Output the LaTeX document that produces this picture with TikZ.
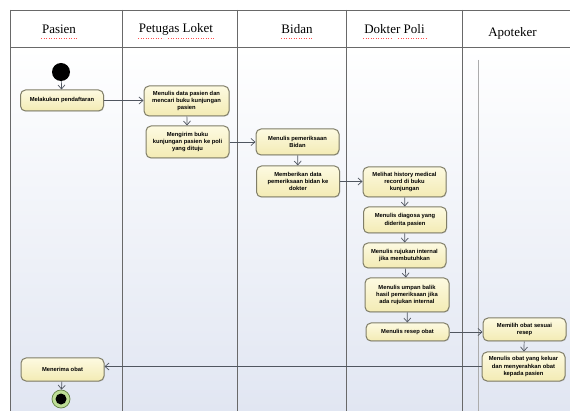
\documentclass[tikz,border=0pt]{standalone}
\usepackage{fontspec}
\setmainfont{Liberation Serif}
\newfontfamily\actfont{Liberation Sans}
\usetikzlibrary{arrows.meta,shadows}

\definecolor{lanebg}{RGB}{225,230,242}
\definecolor{gridline}{RGB}{105,105,105}
\definecolor{actfill}{RGB}{243,235,180}
\definecolor{actfilltop}{RGB}{253,250,225}
\definecolor{actborder}{RGB}{128,126,104}
\definecolor{flow}{RGB}{80,86,96}
\definecolor{endring}{RGB}{190,222,150}
\definecolor{endrim}{RGB}{100,130,70}

\tikzset{
  act/.style={draw=actborder, line width=1pt, rounded corners=5pt,
    top color=actfilltop, bottom color=actfill,
    minimum width=83pt, inner sep=1pt, align=center,
    font=\actfont\bfseries\fontsize{5.8}{7.4}\selectfont,
    drop shadow={shadow xshift=0.7pt, shadow yshift=-0.7pt, opacity=0.25}},
  flowarrow/.style={draw=flow, line width=0.7pt,
    -{Straight Barb[length=4pt,width=7pt,line width=0.7pt]}},
  lane/.style={draw=gridline, line width=0.9pt},
  hdr/.style={font=\fontsize{13}{15}\selectfont, inner sep=0pt},
  spell/.style={draw=red!70, line width=0.5pt, dotted}
}

\begin{document}
\begin{tikzpicture}[x=1pt, y=-1pt]
  \useasboundingbox (0,0) rectangle (570,411);
  \fill[white] (0,0) rectangle (570,411);

  % swimlane background
  \shade[top color=white, bottom color=lanebg] (10,47) rectangle (570,411);

  % table frame and lane dividers
  \draw[lane] (10,10) -- (570,10);
  \draw[lane] (10,47) -- (570,47);
  \foreach \xx in {10,122,237,346.5,462}
    \draw[lane] (\xx,10) -- (\xx,411);
  \draw[draw=gray!65, line width=0.8pt] (478,60) -- (478,411);

  % lane headers
  \node[hdr] (hPasien) at (59,29) {Pasien};
  \node[hdr] (hLoket) at (176,29) {Petugas Loket};
  \node[hdr] (hBidan) at (297,29) {Bidan};
  \node[hdr] (hDokter) at (394.5,29) {Dokter Poli};
  \node[hdr] (hApoteker) at (512.5,33) {Apoteker};

  % spell-check underlines
  \draw[spell] (41,38.5) -- (77,38.5);
  \draw[spell] (138,38.5) -- (163,38.5);
  \draw[spell] (168,38.5) -- (215,38.5);
  \draw[spell] (281,38.5) -- (313,38.5);
  \draw[spell] (363,38.5) -- (392,38.5);
  \draw[spell] (398,38.5) -- (426,38.5);

  % start and end nodes
  \node[circle, fill=black, minimum size=18pt, inner sep=0pt] (start) at (61,72) {};
  \node[circle, fill=endring, draw=endrim, line width=0.7pt, minimum size=18pt, inner sep=0pt] (finish) at (61,399) {};
  \node[circle, fill=black, minimum size=11pt, inner sep=0pt] (finishdot) at (61,399) {};

  % activities
  \node[act, minimum height=21pt] (daftar) at (62,100.5) {Melakukan pendaftaran};
  \node[act, minimum height=30pt, minimum width=85pt] (datapasien) at (186.5,101) {Menulis data pasien dan\\mencari buku kunjungan\\pasien};
  \node[act, minimum height=32pt] (kirim) at (187.5,142) {Mengirim buku\\kunjungan pasien ke poli\\yang dituju};
  \node[act, minimum height=26pt] (periksa) at (297.5,142) {Menulis pemeriksaan\\Bidan};
  \node[act, minimum height=31pt] (beri) at (298,181.5) {Memberikan data\\pemeriksaan bidan ke\\dokter};
  \node[act, minimum height=30pt] (history) at (404.5,182) {Melihat history medical\\record di buku\\kunjungan};
  \node[act, minimum height=26pt] (diagnosa) at (405,220) {Menulis diagosa yang\\diderita pasien};
  \node[act, minimum height=25pt] (rujukan) at (404.5,255.5) {Menulis rujukan internal\\jika membutuhkan};
  \node[act, minimum height=34pt, minimum width=84pt] (umpan) at (407,295) {Menulis umpan balik\\hasil pemeriksaan jika\\ada rujukan internal};
  \node[act, minimum height=18pt] (resep) at (407.5,332) {Menulis resep obat};
  \node[act, minimum height=23pt] (pilih) at (524.5,329.5) {Memilih obat sesuai\\resep};
  \node[act, minimum height=29pt] (serah) at (523.5,366.5) {Menulis obat yang keluar\\dan menyerahkan obat\\kepada pasien};
  \node[act, minimum height=23pt] (terima) at (62.5,369.5) {Menerima obat};

  % control flow
  \draw[flowarrow] (start) -- (daftar);
  \draw[flowarrow] (daftar.east) -- (datapasien.west |- daftar.east);
  \draw[flowarrow] (datapasien) -- (kirim);
  \draw[flowarrow] (kirim.east) -- (periksa.west |- kirim.east);
  \draw[flowarrow] (periksa) -- (beri);
  \draw[flowarrow] (beri.east) -- (history.west |- beri.east);
  \draw[flowarrow] (history) -- (diagnosa);
  \draw[flowarrow] (diagnosa) -- (rujukan);
  \draw[flowarrow] (rujukan) -- (umpan);
  \draw[flowarrow] (umpan) -- (resep);
  \draw[flowarrow] (resep.east) -- (pilih.west |- resep.east);
  \draw[flowarrow] (pilih) -- (serah);
  \draw[flowarrow] (serah.west) -- (terima.east |- serah.west);
  \draw[flowarrow] (terima) -- (finish);
\end{tikzpicture}
\end{document}
